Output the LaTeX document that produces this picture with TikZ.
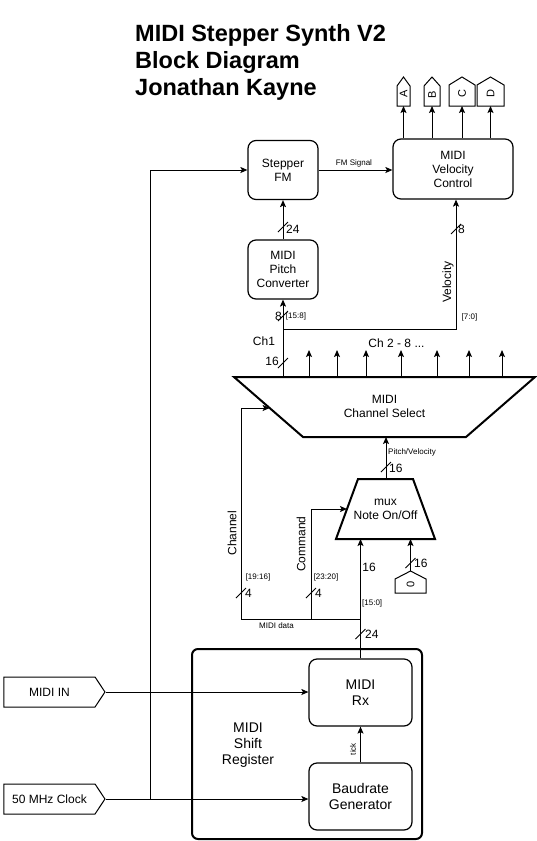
\documentclass[tikz,border=0pt]{standalone}
\usepackage{fontspec}
\setmainfont{Liberation Sans}
\usetikzlibrary{arrows.meta,shapes.symbols,calc}
% upward pointing port outline: centre x, apex y, shoulder y, bottom y, half width
\newcommand{\uppent}[5]{%
  \draw[wire,line join=miter] (#1-#5,#4) -- (#1-#5,#3) -- (#1,#2) -- (#1+#5,#3) -- (#1+#5,#4) -- cycle;}
\begin{document}
\begin{tikzpicture}[x=1pt,y=-1pt,
  font=\fontsize{12}{14}\selectfont,
  wire/.style={line width=1pt},
  arr/.style={wire,-{Stealth[length=7pt,width=6pt,inset=1.5pt]}},
  block/.style={draw,line width=1.2pt,rounded corners=8pt,align=center,inner sep=0pt},
  bigtext/.style={font=\fontsize{14}{16}\selectfont},
  small/.style={font=\fontsize{8}{9}\selectfont,inner sep=0pt},
  lbl/.style={font=\fontsize{12}{14}\selectfont,inner sep=0pt},
  port/.style={draw,line width=1pt,shape=signal,signal to=east,inner sep=0pt},
  portlbl/.style={rotate=90,inner sep=0pt,font=\fontsize{11}{12}\selectfont},
  thickshape/.style={line width=2pt,line join=miter}
]
\useasboundingbox (0,0) rectangle (536,841);

% title
\node[anchor=north west,inner sep=0pt,align=left,
      font=\fontsize{23.5}{27}\bfseries\selectfont] (title) at (135,24)
  {MIDI Stepper Synth V2\\Block Diagram\\Jonathan Kayne};

% main blocks
\node[block,minimum width=70,minimum height=59] (fm) at (283,170) {Stepper\\FM};
\node[block,minimum width=120,minimum height=60] (vel) at (453,169) {MIDI\\Velocity\\Control};
\node[block,minimum width=70,minimum height=59] (pitch) at (283,269.5) {MIDI\\Pitch\\Converter};

% shift register with its two sub-blocks
\node[draw,line width=2pt,rounded corners=6pt,minimum width=230,minimum height=190,inner sep=0pt] (shift) at (307,744) {};
\node[bigtext,align=center,inner sep=0pt] (shiftlbl) at (248,745) {MIDI\\Shift\\Register};
\node[block,bigtext,minimum width=103,minimum height=67] (rx) at (360.5,692.5) {MIDI\\Rx};
\node[block,bigtext,minimum width=103,minimum height=67] (baud) at (360.5,796.5) {Baudrate\\Generator};

% output ports A - D
\uppent{403.5}{77}{86}{106}{6.5}
\uppent{432}{77}{86}{106}{8}
\uppent{462}{77}{85}{106}{13}
\uppent{490.5}{77}{85}{106}{13.5}
\node[portlbl] (oa) at (403.5,94) {A};
\node[portlbl] (ob) at (432,95) {B};
\node[portlbl] (oc) at (462,94) {C};
\node[portlbl] (od) at (490.5,94) {D};
\coordinate (oain) at (403.5,106);
\coordinate (obin) at (432,106);
\coordinate (ocin) at (462,106);
\coordinate (odin) at (490.5,106);

% input ports
\node[port,minimum width=101,minimum height=30,signal pointer angle=113] (midiin) at (49.5,692) {MIDI IN};
\node[port,minimum width=101,minimum height=30,signal pointer angle=113] (clk) at (49.5,799) {50 MHz Clock};

% constant zero port
\uppent{410.5}{571}{579}{593}{15.5}
\node[portlbl] (zero) at (410.5,584) {0};
\coordinate (zeroout) at (410.5,571);

% channel select trapezoid
\coordinate (csTL) at (234,377);
\coordinate (csTR) at (535,377);
\coordinate (csBR) at (466,437);
\coordinate (csBL) at (303,437);
\draw[thickshape] (csTL) -- (csTR) -- (csBR) -- (csBL) -- cycle;
\node[align=center,inner sep=0pt] (cs) at (384.5,406) {MIDI\\Channel Select};

% note on/off mux trapezoid
\coordinate (mxTL) at (358,479);
\coordinate (mxTR) at (413,479);
\coordinate (mxBR) at (435,539);
\coordinate (mxBL) at (336,539);
\draw[thickshape] (mxTL) -- (mxTR) -- (mxBR) -- (mxBL) -- cycle;
\node[align=center,inner sep=0pt] (mux) at (385.5,509) {mux\\Note On/Off};

% outputs of the velocity control
\foreach \p in {oain,obin,ocin,odin}
  \draw[arr] (vel.north -| \p) -- (\p);

% FM path
\draw[arr] (fm.east) -- (fm.east -| vel.west);
\draw[arr] (pitch.north) -- (fm.south);

% channel 1 bus and its split
\coordinate (ch1) at (283,377);
\coordinate (split) at (283,329);
\draw[arr] (ch1) -- (pitch.south);
\draw[arr] (split) -| ($(vel.south)+(3,0)$);

% channels 2 - 8
\foreach \x in {309,337,366,401,437,469,502}
  \draw[arr] (\x,377) -- (\x,350);

% mux to channel select
\coordinate (muxout) at (386,479);
\draw[arr] (muxout) -- (muxout |- csBL);

% MIDI data bus
\coordinate (busL) at (241,619);
\coordinate (busC) at (311,619);
\coordinate (busR) at (360.5,619);
\draw[wire] (busL) -- (busR);
\draw[arr] (busL) |- ($(csTL)!0.5167!(csBL)$);
\draw[arr] (busC) |- ($(mxTL)!0.5!(mxBL)$);
\draw[arr] (rx.north) -- (rx.north |- mxBL);
\draw[arr] (zeroout) -- (zeroout |- mxBL);

% receiver side
\draw[arr] (baud.north) -- (rx.south);
\draw[arr] (midiin.east) -- (midiin.east -| rx.west);
\coordinate (clkturn) at (150,799);
\draw[arr] (clk.east) -- (clk.east -| baud.west);
\draw[arr] (clk.east) -- (clkturn) |- (fm.west);

% bus width marks
\foreach \bx/\by in {283/227, 456/229, 283/316, 283/363, 386/467, 410.5/563, 241/593, 311/593, 360.5/634}
  \draw[wire] (\bx-5,\by+5) -- (\bx+5,\by-5);

% labels
\node[small] (lfm) at (354,163) {FM Signal};
\node[small] (l70) at (469.5,317) {[7:0]};
\node[small] (l158) at (296,316) {[15:8]};
\node[lbl,rotate=90] (lvel) at (448,282) {Velocity};
\node[lbl,anchor=west] (n24a) at (286,229) {24};
\node[lbl,anchor=west] (n8a) at (458,229) {8};
\node[lbl] (n8b) at (278.5,316) {8};
\node[lbl] (lch1) at (264,341) {Ch1};
\node[lbl] (n16a) at (272,361) {16};
\node[lbl] (lch28) at (396.5,343) {Ch 2 - 8 ...};
\node[small,anchor=west] (lpv) at (388,452) {Pitch/Velocity};
\node[lbl,anchor=west] (n16b) at (389,468) {16};
\node[lbl,rotate=90] (lchan) at (232,533) {Channel};
\node[lbl,rotate=90] (lcmd) at (301,544) {Command};
\node[small] (l1916) at (258,577) {[19:16]};
\node[small] (l2320) at (326,577) {[23:20]};
\node[lbl,anchor=west] (n4a) at (245,593) {4};
\node[lbl,anchor=west] (n4b) at (315,593) {4};
\node[lbl] (n16c) at (369,567) {16};
\node[small,anchor=west] (l150) at (362,603) {[15:0]};
\node[small] (lbus) at (276.5,626) {MIDI data};
\node[lbl,anchor=west] (n24b) at (365,634) {24};
\node[lbl,anchor=west] (n16d) at (414,563) {16};
\node[small,rotate=90] (ltick) at (353,749) {tick};
\end{tikzpicture}
\end{document}
